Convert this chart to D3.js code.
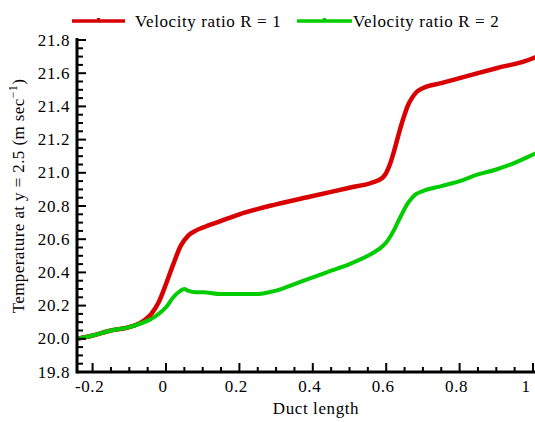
<!DOCTYPE html>
<html><head><meta charset="utf-8">
<script src="https://cdn.jsdelivr.net/npm/d3@7"></script>
<style>body{margin:0;background:#fff}svg{display:block}text{font-family:"Liberation Serif","Times New Roman",serif;}</style>
</head><body>
<svg id="c" width="535" height="422"></svg>
<script>
const xR = [-0.243,-0.2,-0.15,-0.1,-0.06,-0.04,-0.02,0,0.02,0.04,0.06,0.08,0.1,0.15,0.2,0.3,0.4,0.5,0.56,0.59,0.6,0.61,0.62,0.63,0.64,0.65,0.66,0.67,0.68,0.7,0.75,0.8,0.9,1.0,1.01];
const yR = [20.0,20.02,20.05,20.07,20.11,20.15,20.22,20.33,20.45,20.56,20.62,20.65,20.67,20.71,20.75,20.81,20.86,20.91,20.94,20.97,21.0,21.05,21.12,21.2,21.28,21.35,21.41,21.45,21.48,21.51,21.54,21.57,21.63,21.69,21.70];
const xG = [-0.243,-0.2,-0.15,-0.1,-0.06,-0.04,-0.02,0,0.02,0.04,0.05,0.06,0.08,0.1,0.15,0.2,0.25,0.28,0.3,0.35,0.4,0.45,0.5,0.55,0.58,0.6,0.62,0.64,0.66,0.68,0.7,0.75,0.8,0.85,0.9,0.95,1.0,1.01];
const yG = [20.0,20.02,20.05,20.07,20.1,20.12,20.15,20.19,20.25,20.29,20.30,20.29,20.28,20.28,20.27,20.27,20.27,20.28,20.29,20.33,20.37,20.41,20.45,20.5,20.54,20.58,20.65,20.74,20.82,20.87,20.89,20.92,20.95,20.99,21.02,21.06,21.11,21.12];
const xTicks = [-0.2,0,0.2,0.4,0.6,0.8,1];
const xTickLabels = ["-0.2","0","0.2","0.4","0.6","0.8","1"];
const yTicks = [19.8,20.0,20.2,20.4,20.6,20.8,21.0,21.2,21.4,21.6,21.8];
const yTickLabels = ["19.8","20.0","20.2","20.4","20.6","20.8","21.0","21.2","21.4","21.6","21.8"];
const seriesNames = ["Velocity ratio R = 1","Velocity ratio R = 2"];
const seriesColors = ["#d80000","#00cc00"];

const svg = d3.select("#c");
const x = d3.scaleLinear().domain([-0.2,1]).range([92.6,533]);
const y = d3.scaleLinear().domain([19.8,21.8]).range([372,40]);
const x0 = 77, xEnd = 535, yTop = 38;
const FS = 17, LS = "0.6px";

svg.append("clipPath").attr("id","cp").append("rect")
  .attr("x",x0).attr("y",yTop-5).attr("width",xEnd-x0).attr("height",372-yTop+5);

const line = d3.line().x(d=>x(d[0])).y(d=>y(d[1])).curve(d3.curveMonotoneX);
const g = svg.append("g").attr("clip-path","url(#cp)");
g.append("path").datum(xG.map((v,i)=>[v,yG[i]])).attr("d",line)
  .attr("fill","none").attr("stroke",seriesColors[1]).attr("stroke-width",4);
g.append("path").datum(xR.map((v,i)=>[v,yR[i]])).attr("d",line)
  .attr("fill","none").attr("stroke",seriesColors[0]).attr("stroke-width",4.5);
g.append("path").datum(xG.filter(v=>v<=-0.04).map((v,i)=>[v,yG[i]])).attr("d",line)
  .attr("fill","none").attr("stroke",seriesColors[1]).attr("stroke-width",4);

const ax = svg.append("g");
ax.append("line").attr("x1",x0).attr("x2",xEnd).attr("y1",372).attr("y2",372).attr("stroke","#000").attr("stroke-width",3);
ax.append("line").attr("x1",x0).attr("x2",x0).attr("y1",yTop).attr("y2",373.5).attr("stroke","#000").attr("stroke-width",3);

const xMinor = d3.range(-0.2,1.001,0.05);
xMinor.forEach(v=>{
  const major = xTicks.some(t=>Math.abs(t-v)<1e-6);
  ax.append("line").attr("x1",x(v)).attr("x2",x(v)).attr("y1",372).attr("y2",372-(major?9:5))
    .attr("stroke","#000").attr("stroke-width",2);
});
xTicks.forEach((v,i)=>{
  ax.append("text").attr("x",Math.min(x(v)-3,526)).attr("y",392).attr("text-anchor","middle")
    .attr("font-size",FS).attr("letter-spacing",LS).text(xTickLabels[i]);
});
const yMinor = d3.range(19.8,21.801,0.05);
yMinor.forEach(v=>{
  const major = yTicks.some(t=>Math.abs(t-v)<1e-6);
  ax.append("line").attr("x1",x0).attr("x2",x0+(major?9:6)).attr("y1",y(v)).attr("y2",y(v))
    .attr("stroke","#000").attr("stroke-width",2);
});
yTicks.forEach((v,i)=>{
  ax.append("text").attr("x",70).attr("y",y(v)+5.5).attr("text-anchor","end")
    .attr("font-size",FS).attr("letter-spacing",LS).text(yTickLabels[i]);
});

svg.append("text").attr("x",316).attr("y",414).attr("text-anchor","middle").attr("font-size",FS).attr("letter-spacing",LS).text("Duct length");
const yt = svg.append("text").attr("transform","translate(24,196) rotate(-90)").attr("text-anchor","middle").attr("font-size",FS).attr("letter-spacing","0.4px");
yt.append("tspan").text("Temperature at y = 2.5 (m sec");
yt.append("tspan").attr("dy",-7).attr("font-size",12).text("\u22121");
yt.append("tspan").attr("dy",7).text(")");

const leg = [[72,125,135],[297,352,353]];
leg.forEach((p,i)=>{
  svg.append("line").attr("x1",p[0]).attr("x2",p[1]).attr("y1",21).attr("y2",21)
    .attr("stroke",seriesColors[i]).attr("stroke-width",3.5);
  svg.append("rect").attr("x",(p[0]+p[1])/2-1.5).attr("y",18).attr("width",3).attr("height",3).attr("fill",seriesColors[i]);
  svg.append("text").attr("x",p[2]).attr("y",27).attr("font-size",FS).attr("letter-spacing",LS).text(seriesNames[i]);
});
</script>
</body></html>
